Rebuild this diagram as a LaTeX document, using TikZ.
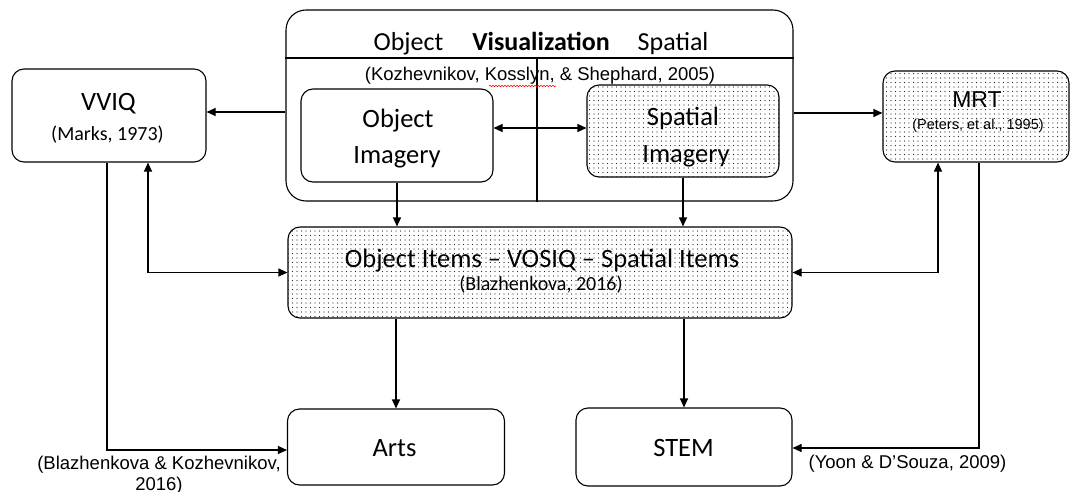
\documentclass[tikz,border=0pt]{standalone}
\usepackage{fontspec}
\setmainfont{Carlito}
\newfontfamily\arial{Liberation Sans}
\usetikzlibrary{arrows.meta,positioning,patterns,decorations.pathmorphing}

\pgfdeclarepatternformonly{finedots}{\pgfqpoint{-1pt}{-1pt}}{\pgfqpoint{1pt}{1pt}}{\pgfqpoint{4.5pt}{4.5pt}}{%
  \pgfpathcircle{\pgfqpoint{0pt}{0pt}}{0.65pt}\pgfusepath{fill}}

\begin{document}
\begin{tikzpicture}[x=1pt,y=-1pt,line width=1.1pt,>={Triangle[length=9pt,width=8pt]}]
\tikzstyle{box}=[draw,rounded corners=12pt,inner sep=0pt];
\tikzstyle{dotbox}=[box,pattern=finedots,pattern color=black!85];
\tikzstyle{big}=[font=\fontsize{26.5}{30}\selectfont,anchor=base];
\tikzstyle{ref}=[font=\fontsize{20}{22}\selectfont,anchor=base];
\tikzstyle{arialref}=[font=\arial\fontsize{18.5}{20.5}\selectfont,align=center];

\useasboundingbox (0,0) rectangle (1073,492);

\node[box,rounded corners=20pt,minimum width=507pt,minimum height=191pt] (vis) at (539.5,105.5) {};
\coordinate (split) at (537,58);
\path[draw] (vis.west |- split) -- (vis.east |- split);
\path[draw] (split) -- (split |- vis.south);
\node[big,font=\fontsize{26}{30}\selectfont] (vis-title) at (541,51) {Object\hspace{29pt}\textbf{Visualization}\hspace{28pt}Spatial};
\node[arialref,anchor=base] (vis-ref) at (540,81) {(Kozhevnikov, Kosslyn, \& Shephard, 2005)};
\draw[red,line width=0.6pt,decorate,decoration={snake,amplitude=0.7pt,segment length=3pt}] (489,86) -- (556,86);

\node[box,minimum width=192pt,minimum height=93pt] (objimg) at (397,135.5) {};
\node[big] (objimg-1) at (398,128) {Object};
\node[big] (objimg-2) at (397,164) {Imagery};

\node[dotbox,minimum width=192pt,minimum height=92pt] (spaimg) at (683,131) {};
\node[big] (spaimg-1) at (683,125) {Spatial};
\node[big] (spaimg-2) at (686,162) {Imagery};

\node[box,minimum width=194pt,minimum height=93pt] (vviq) at (109,115.5) {};
\node[big] (vviq-1) at (108.5,111) {VVIQ};
\node[ref] (vviq-2) at (107.5,141) {(Marks, 1973)};

\node[dotbox,minimum width=186pt,minimum height=91pt] (mrt) at (976,116.5) {};
\node[big,font=\arial\fontsize{23}{26}\selectfont] (mrt-1) at (977,108) {MRT};
\node[font=\arial\fontsize{14.5}{16}\selectfont,anchor=base] (mrt-2) at (978,129) {(Peters, et al., 1995)};

\node[dotbox,minimum width=504pt,minimum height=91pt] (vosiq) at (540,272.5) {};
\node[big] (vosiq-1) at (542,267) {Object Items – VOSIQ – Spatial Items};
\node[ref] (vosiq-2) at (541,290) {(Blazhenkova, 2016)};

\node[box,minimum width=217pt,minimum height=76pt] (arts) at (396,447) {};
\node[big] (arts-1) at (394.5,456) {Arts};
\node[box,minimum width=216pt,minimum height=78pt] (stem) at (684,447) {};
\node[big] (stem-1) at (683.5,456) {STEM};

\node[arialref] (arts-ref) at (159,475) {(Blazhenkova \& Kozhevnikov,\\2016)};
\node[arialref,anchor=base] (stem-ref) at (907.5,468) {(Yoon \& D’Souza, 2009)};

\coordinate (vis-l) at ([yshift=-6.5pt]vis.west);
\coordinate (vis-r) at ([yshift=-7.5pt]vis.east);
\coordinate (dbl) at ([yshift=7.5pt]objimg.east);
\path[draw] [->] (vis-l) -- (vis-l -| vviq.east);
\path[draw] [->] (vis-r) -- (vis-r -| mrt.west);
\path[draw] [<->] (dbl) -- (dbl -| spaimg.west);
\path[draw] [->] (objimg.south) -- (objimg.south |- vosiq.north);
\path[draw] [->] (spaimg.south) -- (spaimg.south |- vosiq.north);
\path[draw] [<->] ([xshift=39pt]vviq.south) |- (vosiq.west);
\path[draw] [<->] ([xshift=-38pt]mrt.south) |- (vosiq.east);
\path[draw] [->] ([xshift=-2pt]vviq.south) |- ([yshift=-3pt]arts.west);
\path[draw] [->] ([xshift=3pt]mrt.south) |- ([yshift=-1pt]stem.east);
\path[draw] [->] (vosiq.south -| arts.north) -- (arts.north);
\path[draw] [->] (vosiq.south -| stem.north) -- (stem.north);
\end{tikzpicture}
\end{document}
